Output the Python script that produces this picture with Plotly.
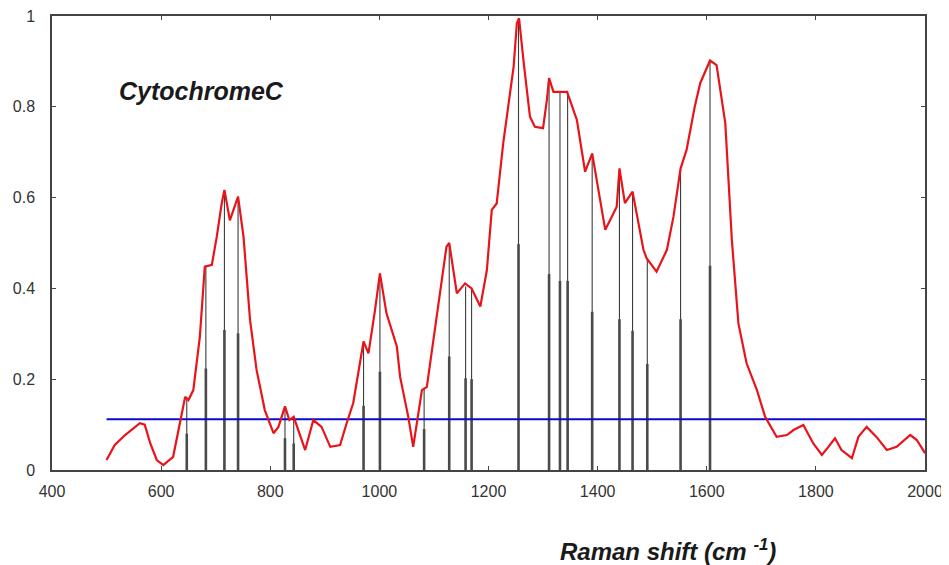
import plotly.graph_objects as go

# Raman spectrum (red curve)
spec_x = [500, 515, 534, 552, 561, 570, 580, 592, 604, 622, 635, 644, 650, 659, 671, 680, 693, 702, 711, 716,
          726, 741, 751, 763, 775, 790, 806, 815, 827, 835, 843, 864, 879, 894, 910, 928, 940, 952, 971, 980,
          992, 1001, 1013, 1032, 1038, 1053, 1062, 1078, 1087, 1105, 1123, 1128, 1142, 1157, 1169, 1185, 1197,
          1206, 1215, 1227, 1246, 1252, 1256, 1264, 1276, 1285, 1300, 1307, 1311, 1319, 1344, 1362, 1377, 1390,
          1404, 1414, 1426, 1435, 1440, 1450, 1464, 1484, 1490, 1508, 1527, 1539, 1552, 1563, 1578, 1588, 1606,
          1618, 1634, 1646, 1658, 1673, 1692, 1707, 1728, 1747, 1759, 1777, 1795, 1811, 1823, 1835, 1847, 1866,
          1878, 1893, 1911, 1930, 1948, 1973, 1985, 2000]
spec_y = [0.022, 0.055, 0.077, 0.093, 0.103, 0.100, 0.059, 0.022, 0.011, 0.029, 0.103, 0.161, 0.154, 0.176, 0.294,
          0.448, 0.452, 0.514, 0.587, 0.617, 0.550, 0.602, 0.514, 0.330, 0.220, 0.132, 0.081, 0.095, 0.140, 0.110,
          0.117, 0.044, 0.110, 0.095, 0.051, 0.055, 0.103, 0.147, 0.283, 0.257, 0.352, 0.433, 0.345, 0.272, 0.205,
          0.117, 0.051, 0.176, 0.183, 0.338, 0.492, 0.500, 0.389, 0.411, 0.400, 0.360, 0.440, 0.573, 0.587, 0.720,
          0.888, 0.984, 0.995, 0.903, 0.778, 0.756, 0.753, 0.815, 0.863, 0.833, 0.833, 0.771, 0.657, 0.697, 0.595,
          0.529, 0.558, 0.580, 0.664, 0.588, 0.613, 0.485, 0.466, 0.437, 0.485, 0.558, 0.664, 0.705, 0.800, 0.852,
          0.902, 0.892, 0.764, 0.507, 0.323, 0.235, 0.176, 0.117, 0.073, 0.077, 0.088, 0.099, 0.059, 0.033, 0.051,
          0.070, 0.044, 0.026, 0.073, 0.095, 0.073, 0.044, 0.051, 0.077, 0.066, 0.037]

# Peak sticks
peak_x = [647, 682, 716, 741, 827, 843, 971, 1001, 1082, 1128, 1158, 1169, 1255, 1311, 1331, 1345, 1390, 1440,
          1464, 1491, 1552, 1606]
peak_h = [0.160, 0.447, 0.617, 0.602, 0.140, 0.117, 0.283, 0.433, 0.180, 0.500, 0.404, 0.400, 0.995, 0.863,
          0.833, 0.833, 0.697, 0.664, 0.613, 0.467, 0.664, 0.900]

# Threshold line
thr_x = [500, 2000]
thr_y = [0.112, 0.112]

x_ticks = [400, 600, 800, 1000, 1200, 1400, 1600, 1800, 2000]
y_ticks = [0, 0.2, 0.4, 0.6, 0.8, 1]

def stick_xy(xs, hs, frac):
    sx, sy = [], []
    for x, h in zip(xs, hs):
        sx += [x, x, None]
        sy += [0, h * frac, None]
    return sx, sy

fig = go.Figure()
tx, ty = stick_xy(peak_x, peak_h, 1.0)
fig.add_trace(go.Scatter(x=tx, y=ty, mode="lines", line=dict(color="#3c3c3c", width=1.1),
                         hoverinfo="skip", showlegend=False))
hx, hy = stick_xy(peak_x, peak_h, 0.5)
fig.add_trace(go.Scatter(x=hx, y=hy, mode="lines", line=dict(color="#4a4a4a", width=2.6),
                         hoverinfo="skip", showlegend=False))
fig.add_trace(go.Scatter(x=thr_x, y=thr_y, mode="lines", line=dict(color="#0a0ad0", width=2),
                         showlegend=False))
fig.add_trace(go.Scatter(x=spec_x, y=spec_y, mode="lines", line=dict(color="#e8141a", width=2.2),
                         showlegend=False))

tickfont = dict(family="Liberation Sans Narrow, Liberation Sans, Arial", size=16, color="#333333")
fig.update_xaxes(range=[400, 2000], tickvals=x_ticks, ticks="inside", ticklen=4, tickcolor="#444",
                 showline=True, linecolor="#444", linewidth=1.5, mirror="ticks", showgrid=False,
                 zeroline=False, tickfont=tickfont, ticklabelstandoff=6, automargin=False,
                 ticklabeloverflow="allow")
fig.update_yaxes(range=[0, 1], tickvals=y_ticks, ticks="inside", ticklen=4, tickcolor="#444",
                 showline=True, linecolor="#444", linewidth=1.5, mirror="ticks", showgrid=False,
                 zeroline=False, tickfont=tickfont, ticklabelstandoff=12, automargin=False,
                 ticklabeloverflow="allow")

fig.add_annotation(text="<b><i>CytochromeC</i></b>", xref="paper", yref="paper", x=0.075, y=0.835,
                   xanchor="left", yanchor="middle", showarrow=False,
                   font=dict(family="Liberation Sans, Arial", size=25, color="#1a1a1a"))
fig.add_annotation(text="<b><i>Raman shift (cm <sup>-1</sup>)</i></b>", xref="paper", yref="paper",
                   x=0.706, y=-0.176, xanchor="center", yanchor="middle", showarrow=False,
                   font=dict(family="Liberation Sans, Arial", size=24, color="#1a1a1a"))

fig.update_layout(width=949, height=565, margin=dict(l=44, r=32, t=8, b=103, autoexpand=False),
                  plot_bgcolor="white", paper_bgcolor="white")
fig.write_html("out.html")
